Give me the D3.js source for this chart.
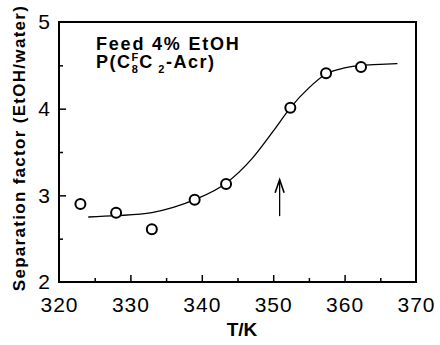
<!DOCTYPE html>
<html>
<head>
<meta charset="utf-8">
<script src="https://cdn.jsdelivr.net/npm/d3@7"></script>
<style>
  body { margin: 0; background: #fff; }
  svg { display: block; font-family: Arial, "Liberation Sans", Helvetica, sans-serif; }
</style>
</head>
<body>
<div id="chart"></div>
<script>
// measured points
const temps = [323.0, 328.0, 333.0, 339.0, 343.4, 352.4, 357.4, 362.3];
const sepFactor = [2.90, 2.80, 2.61, 2.95, 3.13, 4.01, 4.41, 4.48];

// fitted curve
const fitTemps = [324.1, 328, 333, 336, 339, 343.4, 347, 350, 352.4, 355, 357.4, 360, 362.3, 365, 367.4];
const fitValues = [2.75, 2.765, 2.80, 2.86, 2.95, 3.14, 3.42, 3.74, 4.01, 4.24, 4.40, 4.47, 4.50, 4.51, 4.52];

const xTicks = [320, 330, 340, 350, 360, 370];
const yTicks = [2, 3, 4, 5];

// arrow marking the transition
const arrowT = 350.9, arrowFrom = 2.76, arrowTo = 3.18;

const width = 440, height = 345;
const margin = { top: 22, right: 24, bottom: 63, left: 59 };

const svg = d3.select("#chart").append("svg")
  .attr("width", width)
  .attr("height", height);

const x = d3.scaleLinear().domain([320, 370]).range([margin.left, width - margin.right]);
const y = d3.scaleLinear().domain([2, 5]).range([height - margin.bottom, margin.top]);

// frame
svg.append("rect")
  .attr("x", x(320)).attr("y", y(5))
  .attr("width", x(370) - x(320)).attr("height", y(2) - y(5))
  .attr("fill", "none").attr("stroke", "#000").attr("stroke-width", 2);

// x axis, ticks inside
const xAxis = svg.append("g")
  .attr("transform", `translate(0,${y(2)})`)
  .call(d3.axisBottom(x).tickValues(xTicks).tickSize(-7).tickPadding(15).tickFormat(d3.format("d")));
xAxis.select(".domain").remove();
xAxis.selectAll("line").attr("stroke-width", 1.5);
xAxis.selectAll("text").attr("font-size", 21).attr("letter-spacing", 1).attr("fill", "#000");
xAxis.selectAll(".tick").filter(d => d === 320 || d === 370).select("line").remove();

svg.append("g")
  .attr("transform", `translate(0,${y(2)})`)
  .call(d3.axisBottom(x).tickValues(d3.range(325, 370, 10)).tickSize(-4).tickFormat(""))
  .call(g => g.select(".domain").remove())
  .selectAll("line").attr("stroke-width", 1.5);

// y axis
const yAxis = svg.append("g")
  .attr("transform", `translate(${x(320)},0)`)
  .call(d3.axisLeft(y).tickValues(yTicks).tickSize(-7).tickPadding(9).tickFormat(d3.format("d")));
yAxis.select(".domain").remove();
yAxis.selectAll("line").attr("stroke-width", 1.5);
yAxis.selectAll("text").attr("font-size", 21).attr("fill", "#000");
yAxis.selectAll(".tick").filter(d => d === 2 || d === 5).select("line").remove();

svg.append("g")
  .attr("transform", `translate(${x(320)},0)`)
  .call(d3.axisLeft(y).tickValues([2.5, 3.5, 4.5]).tickSize(-4).tickFormat(""))
  .call(g => g.select(".domain").remove())
  .selectAll("line").attr("stroke-width", 1.5);

// axis titles
svg.append("text")
  .attr("x", 242)
  .attr("y", 336)
  .attr("text-anchor", "middle")
  .attr("font-size", 19).attr("font-weight", "bold")
  .text("T/K");

svg.append("text")
  .attr("transform", `translate(25,${(y(2) + y(5)) / 2 - 4}) rotate(-90)`)
  .attr("text-anchor", "middle")
  .attr("font-size", 17).attr("font-weight", "bold").attr("letter-spacing", 1.3)
  .text("Separation factor (EtOH/water)");

// fitted curve
const line = d3.line()
  .curve(d3.curveMonotoneX)
  .x((d, i) => x(fitTemps[i]))
  .y(d => y(d));

svg.append("path")
  .datum(fitValues)
  .attr("fill", "none")
  .attr("stroke", "#000")
  .attr("stroke-width", 1.3)
  .attr("d", line);

// data points
svg.selectAll("circle.pt")
  .data(sepFactor)
  .enter()
  .append("circle")
  .attr("class", "pt")
  .attr("cx", (d, i) => x(temps[i]))
  .attr("cy", d => y(d))
  .attr("r", 5)
  .attr("fill", "#fff")
  .attr("stroke", "#000")
  .attr("stroke-width", 2);

// arrow
const ax = x(arrowT);
svg.append("line")
  .attr("x1", ax).attr("x2", ax)
  .attr("y1", y(arrowFrom)).attr("y2", y(arrowTo))
  .attr("stroke", "#000").attr("stroke-width", 1.3);
svg.append("path")
  .attr("d", `M${ax - 4.5},${y(arrowTo) + 13} L${ax},${y(arrowTo)} L${ax + 4.5},${y(arrowTo) + 13}`)
  .attr("fill", "none").attr("stroke", "#000").attr("stroke-width", 1.6);

// legend text
svg.append("text")
  .attr("x", 96).attr("y", 50)
  .attr("font-size", 18).attr("font-weight", "bold").attr("letter-spacing", 1.8)
  .text("Feed 4% EtOH");

const t2 = svg.append("text")
  .attr("x", 96).attr("y", 68)
  .attr("font-size", 18).attr("font-weight", "bold").attr("letter-spacing", 1.5);
t2.append("tspan").text("P(C");
t2.append("tspan").attr("font-size", 11).attr("dy", -7).text("F");
t2.append("tspan").attr("font-size", 11).attr("dx", -8).attr("dy", 12).text("8");
t2.append("tspan").attr("dy", -5).text("C ");
t2.append("tspan").attr("font-size", 11).attr("dx", -2).attr("dy", 5).text("2");
t2.append("tspan").attr("dy", -5).text("-Acr)");
</script>
</body>
</html>
